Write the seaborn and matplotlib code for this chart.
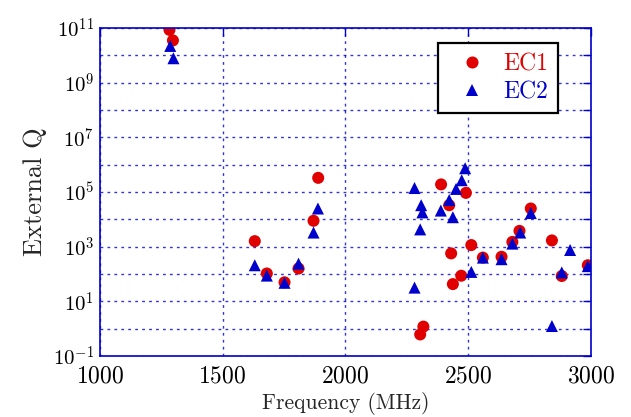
import math
import pandas as pd
import matplotlib
matplotlib.use('Agg')
import matplotlib.pyplot as plt
import matplotlib.ticker as mticker
import seaborn as sns

# Valores (frequencia em MHz, Q externo)
freq_ec1 = [1284, 1298, 1631, 1680, 1752, 1809, 1870, 1889, 2304, 2317,
            2389, 2422, 2430, 2437, 2471, 2490, 2512, 2559, 2635, 2679,
            2708, 2754, 2840, 2880, 2986]
q_ec1 = [8.5e10, 3.5e10, 1.6e3, 1.05e2, 50, 1.6e2, 8.9e3, 3.3e5, 0.62, 1.2,
         1.9e5, 3.3e4, 5.7e2, 43, 87, 9.3e4, 1.15e3, 4.0e2, 4.3e2, 1.5e3,
         3.8e3, 2.5e4, 1.7e3, 85, 2.1e2]

freq_ec2 = [1287, 1300, 1631, 1680, 1752, 1809, 1870, 1888, 2281, 2281,
            2304, 2308, 2313, 2388, 2422, 2437, 2450, 2473, 2487, 2512,
            2559, 2635, 2679, 2711, 2754, 2840, 2880, 2914, 2986]
q_ec2 = [2.2e10, 7.8e9, 2.1e2, 88, 48, 2.4e2, 3.3e3, 2.5e4, 1.4e5, 32,
         4.3e3, 3.3e4, 1.8e4, 2.1e4, 5.1e4, 1.2e4, 1.3e5, 2.7e5, 7.4e5, 1.2e2,
         4.0e2, 3.5e2, 1.3e3, 3.3e3, 1.7e4, 1.26, 1.15e2, 7.6e2, 1.95e2]

series = ['EC1', 'EC2']
cores = {'EC1': '#e00000', 'EC2': '#0000cc'}
marcadores = {'EC1': 'o', 'EC2': '^'}
azul = '#0000cc'

df = pd.concat([
    pd.DataFrame({'freq': freq_ec1, 'q': q_ec1, 'serie': 'EC1'}),
    pd.DataFrame({'freq': freq_ec2, 'q': q_ec2, 'serie': 'EC2'}),
], ignore_index=True)

sns.set_style('white')
plt.rcParams['font.family'] = ['cmr10', 'DejaVu Serif']
plt.rcParams['mathtext.fontset'] = 'cm'
plt.rcParams['axes.formatter.use_mathtext'] = True

fig = plt.figure(figsize=(6.31, 4.17), dpi=100)
ax = fig.add_axes([0.158, 0.146, 0.779, 0.787])

sns.scatterplot(data=df, x='freq', y='q', hue='serie', style='serie',
                palette=cores, markers=marcadores, hue_order=series,
                style_order=series, s=75, linewidth=0, ax=ax)

ax.set_yscale('log')
ax.set_xlim(1000, 3000)
ax.set_ylim(1e-1, 1e11)
ax.set_xticks([1000, 1500, 2000, 2500, 3000])
ax.yaxis.set_major_locator(mticker.LogLocator(base=10, numticks=20))
ax.yaxis.set_minor_locator(mticker.NullLocator())

# so os expoentes impares levam rotulo
def fmt_y(v, pos):
    exp = int(round(math.log10(v)))
    if exp % 2 == 0:
        return ''
    return r'$10^{%d}$' % exp

ax.yaxis.set_major_formatter(mticker.FuncFormatter(fmt_y))

ax.grid(True, color=azul, linestyle=(0, (2, 3)), linewidth=1.0, alpha=0.8)
for s in ax.spines.values():
    s.set_color(azul)
    s.set_linewidth(1.2)
ax.tick_params(direction='in', color=azul, length=6, width=1.0,
               top=True, right=True, labelcolor='black')
ax.tick_params(axis='x', labelsize=17, pad=7)
ax.tick_params(axis='y', labelsize=15, pad=4)

ax.set_xlabel('Frequency (MHz)', fontsize=15.5, labelpad=3)
ax.set_ylabel('External Q', fontsize=19, labelpad=4)

handles, labels = ax.get_legend_handles_labels()
leg = ax.legend(handles, labels, loc='upper right', bbox_to_anchor=(0.933, 0.954),
                borderaxespad=0, fontsize=17, frameon=True, fancybox=False,
                edgecolor='black', framealpha=1, borderpad=0.42,
                handlelength=2.0, handletextpad=0.35, labelspacing=0.25,
                markerscale=1.0)
leg.get_frame().set_linewidth(1.6)
for txt, nome in zip(leg.get_texts(), labels):
    txt.set_color(cores[nome])

fig.savefig('out.png', dpi=100)
plt.close(fig)
